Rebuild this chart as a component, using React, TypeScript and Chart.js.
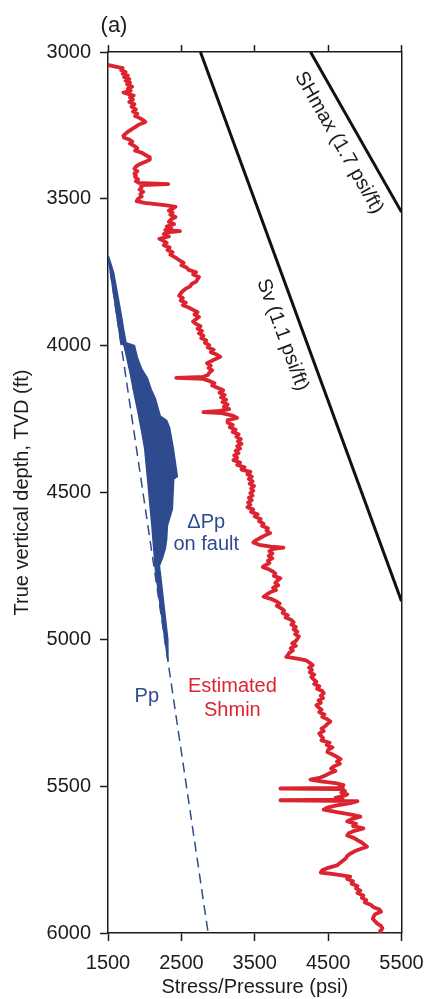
import React, { useEffect, useRef } from 'react';
import { Chart, registerables } from 'chart.js';

Chart.register(...registerables);

const FONT = '"Liberation Sans", Arial, Helvetica, sans-serif';
const INK = '#1c1c1c';
const RED = '#dc2430';
const BLUE = '#2f4b90';
const BLACK = '#111111';

// Axis ranges and ticks
const psiRange = [1500, 5500];
const depthRange = [3000, 6000];
const psiTicks = [1500, 2500, 3500, 4500, 5500];
const depthTicks = [3000, 3500, 4000, 4500, 5000, 5500, 6000];

// Stress gradients: [depth ft, stress psi]
const svLine: [number, number][] = [[3000, 2760], [4870, 5500]];
const shmaxLine: [number, number][] = [[3000, 4260], [3545, 5500]];

// Hydrostatic pore pressure trend: [depth ft, psi]
const ppLine: [number, number][] = [[3695, 1500], [6000, 2865]];

// Pore pressure change on the fault (band edges, psi)
const bandDepth = [3695, 3750, 3800, 3850, 3900, 3950, 3990, 4000, 4040, 4080, 4110, 4150, 4180, 4240, 4255, 4280, 4350, 4445, 4455, 4557, 4613, 4658, 4691, 4725, 4749, 4800, 4900, 5000, 5076];
const bandLow = [1500, 1533, 1562, 1592, 1621, 1651, 1675, 1720, 1755, 1790, 1815, 1845, 1870, 1920, 1930, 1950, 2000, 2036, 2040, 2077, 2098, 2112, 2124, 2133, 2140, 2165, 2220, 2275, 2318];
const bandHigh = [1505, 1575, 1612, 1648, 1684, 1716, 1745, 1860, 1900, 1960, 2036, 2090, 2145, 2213, 2300, 2340, 2390, 2445, 2395, 2377, 2309, 2300, 2281, 2240, 2200, 2225, 2270, 2315, 2328];

// Estimated Shmin log: [depth ft, psi]
const shminLog: [number, number][] = [
  [3045, 1510], [3050, 1600], [3055, 1700], [3062, 1680], [3068, 1740], [3074, 1700], [3080, 1770], [3086, 1720],
  [3092, 1790], [3098, 1740], [3104, 1800], [3110, 1760], [3118, 1830], [3125, 1770], [3132, 1810], [3138, 1710],
  [3142, 1760], [3148, 1850], [3155, 1800], [3162, 1840], [3170, 1790], [3178, 1860], [3186, 1820], [3195, 1880],
  [3203, 1840], [3210, 1900], [3218, 1870], [3226, 1940], [3234, 1990], [3238, 2010], [3244, 1950], [3250, 1900],
  [3256, 1870], [3262, 1830], [3270, 1780], [3278, 1740], [3285, 1710], [3292, 1720], [3298, 1790], [3305, 1830],
  [3312, 1800], [3320, 1860], [3328, 1900], [3336, 1870], [3343, 1960], [3350, 2010], [3358, 2060], [3366, 2070],
  [3374, 2010], [3382, 1930], [3390, 1880], [3398, 1860], [3406, 1900], [3414, 1860], [3420, 1880], [3426, 1870],
  [3434, 1910], [3440, 1880], [3446, 1920], [3450, 2320], [3453, 1950], [3460, 1960], [3468, 1930], [3476, 1980],
  [3484, 1940], [3492, 1960], [3500, 1910], [3508, 1890], [3514, 2000], [3518, 2150], [3522, 2300], [3527, 2420],
  [3534, 2380], [3540, 2330], [3547, 2380], [3554, 2350], [3562, 2420], [3570, 2360], [3578, 2330], [3586, 2400],
  [3594, 2300], [3600, 2360], [3606, 2280], [3610, 2480], [3614, 2300], [3620, 2260], [3628, 2330], [3636, 2200],
  [3642, 2250], [3650, 2300], [3658, 2260], [3666, 2340], [3674, 2310], [3682, 2380], [3690, 2350],
  [3700, 2420], [3710, 2480], [3718, 2530], [3726, 2500], [3734, 2570], [3742, 2600], [3750, 2700], [3758, 2660],
  [3766, 2740], [3774, 2720], [3782, 2700], [3790, 2640], [3798, 2620], [3806, 2560], [3814, 2520], [3822, 2490],
  [3830, 2470], [3838, 2520], [3846, 2490], [3854, 2560], [3862, 2520], [3870, 2600], [3878, 2660], [3886, 2720],
  [3894, 2680], [3902, 2740], [3910, 2700], [3918, 2660], [3926, 2700], [3934, 2760], [3942, 2720], [3950, 2780],
  [3958, 2740], [3966, 2800], [3974, 2770], [3982, 2840], [3990, 2820], [3998, 2880], [4006, 2860], [4014, 2940],
  [4022, 2900], [4030, 2980], [4038, 3030], [4046, 2960], [4054, 2900], [4060, 2850], [4068, 2900], [4076, 2870],
  [4084, 2920], [4092, 2880], [4100, 2860], [4106, 2800], [4110, 2430], [4113, 2800], [4120, 2880], [4128, 2950],
  [4136, 2920], [4144, 3000], [4152, 3070], [4160, 3020], [4168, 3090], [4176, 3040], [4184, 3110], [4192, 3060],
  [4200, 3130], [4208, 3080], [4216, 3150], [4222, 3020], [4226, 2800], [4230, 3050], [4238, 3200], [4246, 3260],
  [4254, 3130], [4262, 3130], [4270, 3200], [4278, 3160], [4286, 3240], [4294, 3200], [4302, 3280], [4310, 3250],
  [4318, 3310], [4326, 3270], [4334, 3320], [4342, 3260], [4350, 3300], [4358, 3240], [4366, 3280], [4374, 3220],
  [4382, 3260], [4390, 3210], [4398, 3300], [4406, 3260], [4414, 3360], [4422, 3320], [4430, 3440], [4438, 3400],
  [4446, 3460], [4454, 3420], [4462, 3470], [4470, 3430], [4478, 3490], [4486, 3450], [4494, 3480], [4502, 3440],
  [4510, 3470], [4518, 3420], [4526, 3460], [4534, 3410], [4542, 3440], [4550, 3400], [4558, 3480], [4566, 3450],
  [4574, 3540], [4582, 3500], [4590, 3580], [4598, 3560], [4606, 3620], [4614, 3600], [4622, 3680], [4630, 3660],
  [4638, 3710], [4646, 3640], [4654, 3580], [4662, 3520], [4670, 3480], [4678, 3560], [4684, 3720], [4688, 3890],
  [4692, 3760], [4700, 3700], [4708, 3740], [4716, 3690], [4724, 3740], [4732, 3680], [4740, 3700], [4748, 3640],
  [4754, 3610], [4760, 3680], [4768, 3740], [4776, 3780], [4784, 3760], [4792, 3850], [4800, 3810], [4808, 3780],
  [4816, 3820], [4824, 3750], [4832, 3790], [4840, 3710], [4848, 3660], [4855, 3620], [4862, 3720], [4870, 3790],
  [4878, 3840], [4886, 3800], [4894, 3860], [4902, 3900], [4910, 3880], [4918, 3950], [4926, 3920], [4934, 4000],
  [4942, 4030], [4950, 4000], [4958, 4060], [4966, 4030], [4974, 4080], [4982, 4050], [4990, 4100], [4998, 4080],
  [5006, 4060], [5014, 4010], [5022, 4060], [5030, 3990], [5038, 4020], [5046, 3970], [5054, 3950], [5060, 3930],
  [5066, 4080], [5072, 4200], [5080, 4250], [5088, 4290], [5096, 4240], [5104, 4280], [5112, 4250], [5120, 4310],
  [5128, 4270], [5136, 4300], [5144, 4340], [5152, 4310], [5160, 4380], [5168, 4350], [5176, 4420], [5184, 4440],
  [5192, 4400], [5200, 4430], [5208, 4370], [5216, 4400], [5224, 4340], [5232, 4370], [5240, 4410], [5248, 4380],
  [5256, 4450], [5264, 4420], [5272, 4490], [5280, 4530], [5288, 4490], [5296, 4460], [5304, 4410], [5312, 4440],
  [5320, 4380], [5328, 4400], [5336, 4430], [5344, 4410], [5352, 4520], [5360, 4480], [5368, 4560], [5376, 4500],
  [5384, 4490], [5392, 4560], [5400, 4620], [5408, 4670], [5416, 4620], [5424, 4660], [5432, 4580], [5440, 4540],
  [5448, 4600], [5456, 4520], [5464, 4460], [5472, 4380], [5478, 4260], [5484, 4400], [5490, 4600], [5496, 4710],
  [5502, 4660], [5506, 4700], [5508, 3850], [5510, 4680], [5516, 4730], [5522, 4680], [5528, 4760], [5534, 4700],
  [5540, 4600], [5546, 4700], [5548, 3850], [5551, 4900], [5558, 4800], [5566, 4600], [5574, 4480], [5580, 4440],
  [5588, 4620], [5596, 4800], [5604, 4940], [5612, 4820], [5620, 4760], [5628, 4880], [5636, 4840], [5644, 4980],
  [5652, 4860], [5660, 4780], [5668, 4760], [5676, 4850], [5684, 4900], [5692, 4960], [5700, 5000], [5706, 5030],
  [5714, 4940], [5722, 4860], [5730, 4800], [5738, 4760], [5746, 4740], [5754, 4700], [5762, 4660], [5770, 4620],
  [5778, 4500], [5786, 4420], [5794, 4400], [5800, 4600], [5808, 4800], [5816, 4760], [5824, 4840], [5832, 4820],
  [5840, 4900], [5848, 4880], [5856, 4940], [5864, 4900], [5872, 4980], [5880, 4960], [5888, 5020], [5896, 5000],
  [5904, 5080], [5912, 5120], [5920, 5200], [5928, 5220], [5936, 5140], [5944, 5120], [5952, 5110], [5960, 5140],
  [5968, 5170], [5976, 5220], [5984, 5240], [5992, 5220], [5998, 5210],
];

// Annotation text: [text, psi, depth, colour]
const plainLabels: [string, number, number, string][] = [
  ['ΔPp', 2839, 4603, BLUE],
  ['on fault', 2839, 4677, BLUE],
  ['Pp', 2029, 5195, BLUE],
  ['Estimated', 3195, 5161, RED],
  ['Shmin', 3195, 5243, RED],
];
const slopeLabels: [string, number, number, [number, number][]][] = [
  ['SHmax (1.7 psi/ft)', 4647, 3309, shmaxLine],
  ['Sv (1.1 psi/ft)', 3877, 3963, svLine],
];

const toXY = (pairs: [number, number][]) => pairs.map(([d, p]) => ({ x: p, y: d }));

const bandPolygon = [
  ...bandDepth.map((d, i) => ({ x: bandLow[i], y: d })),
  ...bandDepth.map((d, i) => ({ x: bandHigh[i], y: d })).reverse(),
];

const annotationPlugin = {
  id: 'annotations',
  afterDatasetsDraw(chart: any) {
    const { ctx, scales, chartArea } = chart;
    const xs = scales.x;
    const ys = scales.y;
    ctx.save();
    ctx.font = `20px ${FONT}`;
    ctx.textAlign = 'center';
    ctx.textBaseline = 'middle';
    for (const [text, psi, depth, color] of plainLabels) {
      ctx.fillStyle = color;
      ctx.fillText(text, xs.getPixelForValue(psi), ys.getPixelForValue(depth));
    }
    ctx.fillStyle = INK;
    for (const [text, psi, depth, line] of slopeLabels) {
      const x0 = xs.getPixelForValue(line[0][1]);
      const y0 = ys.getPixelForValue(line[0][0]);
      const x1 = xs.getPixelForValue(line[1][1]);
      const y1 = ys.getPixelForValue(line[1][0]);
      const angle = Math.atan2(y1 - y0, x1 - x0);
      ctx.save();
      ctx.translate(xs.getPixelForValue(psi), ys.getPixelForValue(depth));
      ctx.rotate(angle);
      ctx.fillText(text, 0, 0);
      ctx.restore();
    }
    ctx.font = `22px ${FONT}`;
    ctx.fillText('(a)', chartArea.left + 6, chartArea.top - 26);
    ctx.restore();
  },
};

const tickFont = { family: FONT, size: 20 };
const fixedTicks = (values: number[]) => (scale: any) => {
  scale.ticks = values.map((v) => ({ value: v }));
};
// Fixed box size with no extra label overhang padding
const fixHeight = (h: number) => (scale: any) => {
  scale.height = h;
  scale.paddingLeft = 0;
  scale.paddingRight = 0;
};
const fixWidth = (w: number) => (scale: any) => {
  scale.width = w;
  scale.paddingTop = 0;
  scale.paddingBottom = 0;
};

export default function App() {
  const ref = useRef<HTMLCanvasElement>(null);

  useEffect(() => {
    document.body.style.margin = '0';
    const chart = new Chart(ref.current as HTMLCanvasElement, {
      type: 'scatter',
      data: {
        datasets: [
          {
            label: 'Estimated Shmin',
            data: toXY(shminLog),
            showLine: true,
            borderColor: RED,
            borderWidth: 3.8,
            pointRadius: 0,
            borderJoinStyle: 'round',
            borderCapStyle: 'round',
          },
          {
            label: 'ΔPp on fault',
            data: bandPolygon,
            showLine: true,
            borderColor: BLUE,
            backgroundColor: BLUE,
            borderWidth: 1.5,
            pointRadius: 0,
            fill: 'shape',
          },
          {
            label: 'Pp',
            data: toXY(ppLine),
            showLine: true,
            borderColor: BLUE,
            borderWidth: 1.5,
            borderDash: [10, 6],
            pointRadius: 0,
          },
          {
            label: 'Sv',
            data: toXY(svLine),
            showLine: true,
            borderColor: BLACK,
            borderWidth: 3,
            pointRadius: 0,
          },
          {
            label: 'SHmax',
            data: toXY(shmaxLine),
            showLine: true,
            borderColor: BLACK,
            borderWidth: 3,
            pointRadius: 0,
          },
        ],
      },
      options: {
        responsive: false,
        animation: false,
        devicePixelRatio: 1,
        layout: { padding: { left: 0, right: 27.5, top: 0, bottom: 0 } },
        plugins: {
          legend: { display: false },
          tooltip: { enabled: false },
        },
        scales: {
          x: {
            type: 'linear',
            position: 'bottom',
            min: psiRange[0],
            max: psiRange[1],
            afterBuildTicks: fixedTicks(psiTicks),
            afterFit: fixHeight(66),
            grid: { drawOnChartArea: false, drawTicks: true, tickLength: 8, tickWidth: 1.5, tickColor: INK },
            border: { display: true, color: INK, width: 1.5 },
            ticks: { padding: 10, color: INK, font: tickFont, maxRotation: 0, autoSkip: false, callback: (v: any) => String(v) },
            title: { display: true, text: 'Stress/Pressure (psi)', color: INK, font: tickFont, padding: { top: 0, bottom: 0 } },
          },
          x2: {
            type: 'linear',
            position: 'top',
            min: psiRange[0],
            max: psiRange[1],
            afterBuildTicks: fixedTicks(psiTicks),
            afterFit: fixHeight(52),
            grid: { drawOnChartArea: false, drawTicks: true, tickLength: 7, tickWidth: 1.5, tickColor: INK },
            border: { display: true, color: INK, width: 1.5 },
            ticks: { display: false },
          },
          y: {
            type: 'linear',
            position: 'left',
            reverse: true,
            min: depthRange[0],
            max: depthRange[1],
            afterBuildTicks: fixedTicks(depthTicks),
            afterFit: fixWidth(108),
            grid: { drawOnChartArea: false, drawTicks: true, tickLength: 8, tickWidth: 1.5, tickColor: INK },
            border: { display: true, color: INK, width: 1.5 },
            ticks: { padding: 9, color: INK, font: tickFont, autoSkip: false, callback: (v: any) => String(v) },
            title: { display: true, text: 'True vertical depth, TVD (ft)', color: INK, font: tickFont, padding: { top: 10, bottom: 0 } },
          },
          y2: {
            type: 'linear',
            position: 'right',
            reverse: true,
            min: depthRange[0],
            max: depthRange[1],
            afterFit: fixWidth(0),
            grid: { drawOnChartArea: false, drawTicks: false },
            border: { display: true, color: INK, width: 1.5 },
            ticks: { display: false },
          },
        },
      } as any,
      plugins: [annotationPlugin],
    });
    return () => chart.destroy();
  }, []);

  return (
    <div style={{ width: 429, height: 999 }}>
      <canvas ref={ref} width={429} height={999} style={{ display: 'block' }} />
    </div>
  );
}
